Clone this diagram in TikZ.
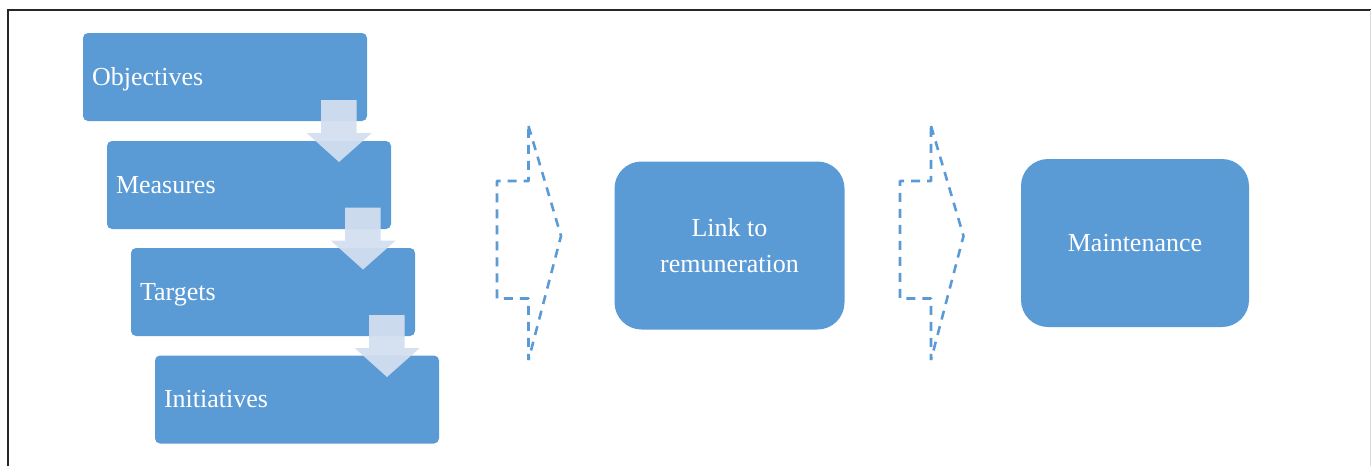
\documentclass[tikz,border=0pt]{standalone}
\usepackage{fontspec}
\setmainfont{Liberation Serif}
\definecolor{boxblue}{HTML}{5B9BD5}
\definecolor{arrowfill}{HTML}{D3DEEF}
\tikzset{
  stepbox/.style={fill=boxblue, draw=none, rounded corners=5pt, inner sep=0pt,
    minimum height=88pt, minimum width=284pt, text width=266pt, align=left,
    text height=22pt, text depth=6pt,
    text=white, font=\fontsize{26}{36}\selectfont},
  bigbox/.style={fill=boxblue, draw=none, rounded corners=27pt, inner sep=0pt,
    minimum height=168pt, minimum width=230pt, align=center,
    text=white, font=\fontsize{26}{36}\selectfont},
  downarrow/.style={fill=arrowfill, draw=none, opacity=0.95},
  chevron/.style={draw=boxblue, line width=2.6pt, dash pattern=on 9pt off 7pt, line join=bevel},
  frame/.style={draw=black!85, line width=1.5pt}
}
\begin{document}
\begin{tikzpicture}[x=1pt,y=-1pt]
\useasboundingbox (0,0) rectangle (1371,466);
% frame
\draw[frame] (8,466) -- (8,10) -- (1371,10);
\draw[draw=black!15, line width=0.8pt] (1370,10) -- (1370,466);
% stacked boxes
\node[stepbox] (obj) at (225,77) {Objectives};
\node[stepbox] (mea) at (249,185) {Measures};
\node[stepbox] (tar) at (273,292) {Targets};
\node[stepbox] (ini) at (297,399.5) {Initiatives};
% down block arrows
\foreach \dx/\dy in {0/0, 24/107.5, 48/215}{
  \fill[downarrow, shift={(\dx,\dy)}]
    (321,100) -- (356.7,100) -- (356.7,133) -- (371.7,133) -- (339,162)
    -- (306.7,133) -- (321,133) -- cycle;
}
% big boxes
\node[bigbox] (link) at (729.5,245.5) {Link to\\remuneration};
\node[bigbox, minimum width=228pt] (main) at (1135,243) {Maintenance};
% dashed chevrons
\draw[chevron] (528.5,126) -- (561,236) -- (528.5,360) -- (528.5,298.5)
  -- (497,298.5) -- (497,181) -- (528.5,181) -- cycle;
\draw[chevron] (931,126) -- (963.5,236) -- (931,360) -- (931,298.5)
  -- (900,298.5) -- (900,181) -- (931,181) -- cycle;
\end{tikzpicture}
\end{document}
